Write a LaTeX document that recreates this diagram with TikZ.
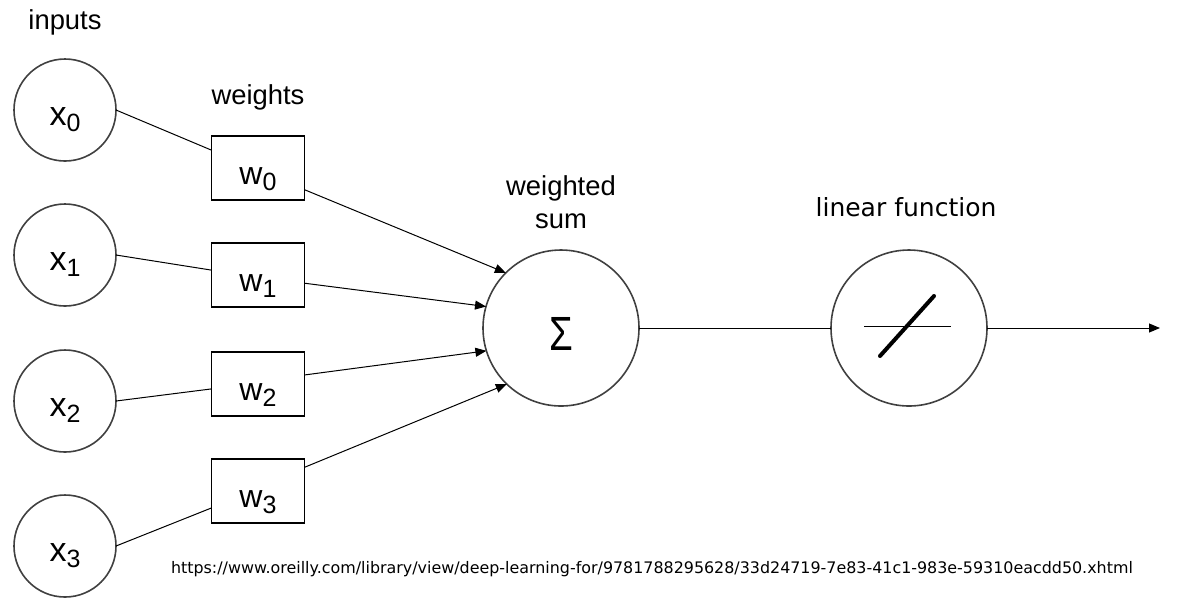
\documentclass[tikz,border=0pt]{standalone}
\usepackage{fontspec}
\setmainfont{Liberation Sans}
\newfontfamily\verdfont{DejaVu Sans}
\usetikzlibrary{arrows.meta, calc}
\definecolor{circlegray}{RGB}{64,64,64}
\newcommand{\wsub}[2]{#1\raisebox{-3.4pt}{\fontsize{12.5}{14}\selectfont #2}}
\tikzset{
    my-input/.style={
      circle, draw=circlegray, line width=0.8pt, minimum size=51pt,
      inner sep=0pt, outer sep=0pt, text height=15pt, text depth=0pt,
      font=\fontsize{17}{20}\selectfont
    },
    my-weight/.style={
      rectangle, draw, line width=0.9pt, minimum width=46.5pt, minimum height=32pt,
      inner sep=0pt, outer sep=0pt, text height=16pt, text depth=0pt,
      font=\fontsize{16}{19}\selectfont
    },
    my-neuron/.style={
      circle, draw=circlegray, line width=0.8pt, minimum size=78pt,
      inner sep=0pt, outer sep=0pt
    },
    my-label/.style={
      anchor=base, inner sep=0pt, font=\fontsize{13.7}{16}\selectfont
    },
    my-wire/.style={
      line width=0.5pt
    },
    my-arrow/.style={
      line width=0.5pt, -{Triangle[length=5.5pt, width=4.5pt]}
    },
}

\begin{document}
\begin{tikzpicture}[x=0.5pt, y=-0.5pt]

        \useasboundingbox (0,0) rectangle (1183,602);

        % INPUTS
        \node[my-input] (X0) at (65,110) {\wsub{x}{0}};
        \node[my-input] (X1) at (65,255) {\wsub{x}{1}};
        \node[my-input] (X2) at (65,401) {\wsub{x}{2}};
        \node[my-input] (X3) at (65,546) {\wsub{x}{3}};
        \node[my-label] (INPUTSLBL) at (65,29) {inputs};

        % WEIGHTS
        \node[my-weight] (W0) at (258,168) {\wsub{w}{0}};
        \node[my-weight] (W1) at (258,275) {\wsub{w}{1}};
        \node[my-weight] (W2) at (258,384) {\wsub{w}{2}};
        \node[my-weight] (W3) at (258,491) {\wsub{w}{3}};
        \node[my-label] (WEIGHTSLBL) at (258,104) {weights};

        % INPUT CONNECTIONS
        \draw[my-wire] (X0.east) -- (W0.159);
        \draw[my-wire] (X1.east) -- (W1.174);
        \draw[my-wire] (X2.east) -- (W2.186);
        \draw[my-wire] (X3.east) -- (W3.200);

        % WEIGHTED SUM
        \node[my-neuron, text height=22pt, text depth=0pt, font=\fontsize{24}{28}\selectfont]
          (SUM) at (561,328) {\scalebox{0.8}[1]{Σ}};
        \node[my-label] (SUMLBL1) at (561,195) {weighted};
        \node[my-label] (SUMLBL2) at (561,228) {sum};

        % WEIGHT CONNECTIONS
        \draw[my-arrow] (W0.335) -- (SUM.135);
        \draw[my-arrow] (W1.350) -- (SUM.164);
        \draw[my-arrow] (W2.11)  -- (SUM.197);
        \draw[my-arrow] (W3.27)  -- (SUM.226);

        % LINEAR FUNCTION
        \node[my-neuron] (LIN) at (909,328) {};
        \node[my-label, font=\verdfont\fontsize{12.5}{15}\selectfont] (LINLBL) at (906,216) {linear function};
        \draw[my-wire] ($(LIN) + (-45,-2)$) -- ($(LIN) + (42,-2)$);
        \draw[line width=2pt, line cap=round] ($(LIN) + (-29,28)$) -- ($(LIN) + (25,-32)$);

        % OUTPUT CONNECTIONS
        \coordinate (OUT) at (1160,328);
        \draw[my-wire] (SUM.east) -- (LIN.west);
        \draw[my-arrow] (LIN.east) -- (OUT);

        % SOURCE
        \node[inner sep=0pt, font=\verdfont\fontsize{7.95}{9}\selectfont] (SRC) at (652,569)
          {https://www.oreilly.com/library/view/deep-learning-for/9781788295628/33d24719-7e83-41c1-983e-59310eacdd50.xhtml};

    \end{tikzpicture}
\end{document}
